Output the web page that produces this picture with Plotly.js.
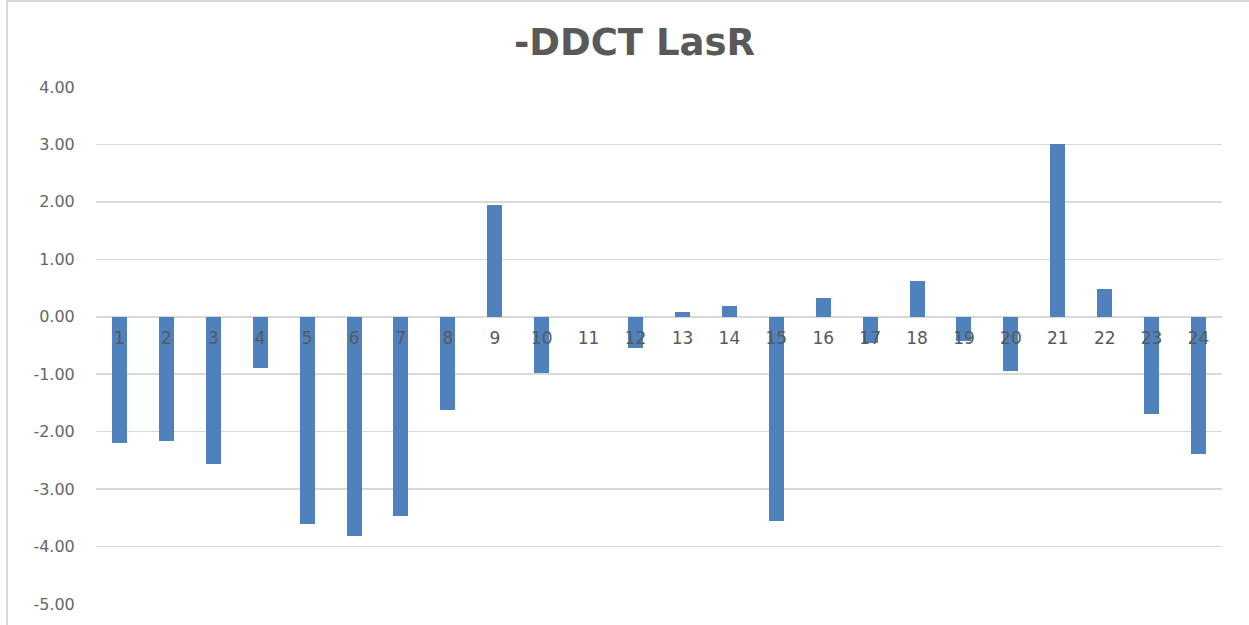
<!DOCTYPE html>
<html>
<head>
<meta charset="utf-8">
<script src="https://cdn.plot.ly/plotly-3.0.1.min.js"></script>
<style>
  html, body { margin: 0; padding: 0; background: #ffffff; }
  #wrap { position: relative; width: 1249px; height: 625px; overflow: hidden; }
  #chart { width: 1249px; height: 625px; }
  #frame { position: absolute; left: 6px; top: 0px; width: 1260px; height: 640px;
           border-left: 2px solid #d9d9d9; border-top: 2px solid #d9d9d9; pointer-events: none; }
</style>
</head>
<body>
<div id="wrap">
  <div id="chart"></div>
  <div id="frame"></div>
</div>
<script>
// Data
const categories = ['1','2','3','4','5','6','7','8','9','10','11','12',
                    '13','14','15','16','17','18','19','20','21','22','23','24'];
const values = [-2.19, -2.16, -2.56, -0.90, -3.60, -3.81, -3.47, -1.62, 1.94, -0.97, 0.00, -0.54,
                0.08, 0.19, -3.55, 0.32, -0.45, 0.62, -0.43, -0.94, 3.00, 0.48, -1.69, -2.39];
const yTicks = [4, 3, 2, 1, 0, -1, -2, -3, -4, -5];
const chartTitle = '-DDCT LasR';

const yMin = -5, yMax = 4;
const textColor = '#595959';
const gridColor = '#d9d9d9';

const trace = {
  type: 'bar',
  x: categories,
  y: values,
  width: 0.32,
  marker: { color: '#4f81bd', line: { width: 0 } },
  hoverinfo: 'x+y'
};

const layout = {
  width: 1249,
  height: 625,
  paper_bgcolor: '#ffffff',
  plot_bgcolor: '#ffffff',
  margin: { l: 96, r: 27, t: 87, b: 21 },
  showlegend: false,
  bargap: 0,
  title: {
    text: '<b>' + chartTitle + '</b>',
    font: { family: 'DejaVu Sans, Open Sans, sans-serif', size: 37, color: textColor },
    x: 0.508, xanchor: 'center',
    y: 0.932, yanchor: 'middle'
  },
  xaxis: {
    type: 'category',
    anchor: 'free',
    position: (0 - yMin) / (yMax - yMin),
    showline: false,
    showgrid: false,
    zeroline: false,
    ticks: 'outside',
    ticklen: 6,
    tickcolor: 'rgba(0,0,0,0)',
    tickfont: { family: 'DejaVu Sans, sans-serif', size: 17, color: textColor },
    layer: 'above traces',
    fixedrange: true
  },
  yaxis: {
    range: [yMin, yMax],
    tickvals: yTicks,
    ticktext: yTicks.map(v => v.toFixed(2)),
    showgrid: true,
    gridcolor: gridColor,
    gridwidth: 1.5,
    zeroline: true,
    zerolinecolor: gridColor,
    zerolinewidth: 1.5,
    showline: false,
    ticks: 'outside',
    ticklen: 17,
    tickcolor: 'rgba(0,0,0,0)',
    tickfont: { family: 'DejaVu Sans, sans-serif', size: 16, color: '#666666' },
    fixedrange: true
  }
};

Plotly.newPlot('chart', [trace], layout, { displayModeBar: false, staticPlot: true });
</script>
</body>
</html>
